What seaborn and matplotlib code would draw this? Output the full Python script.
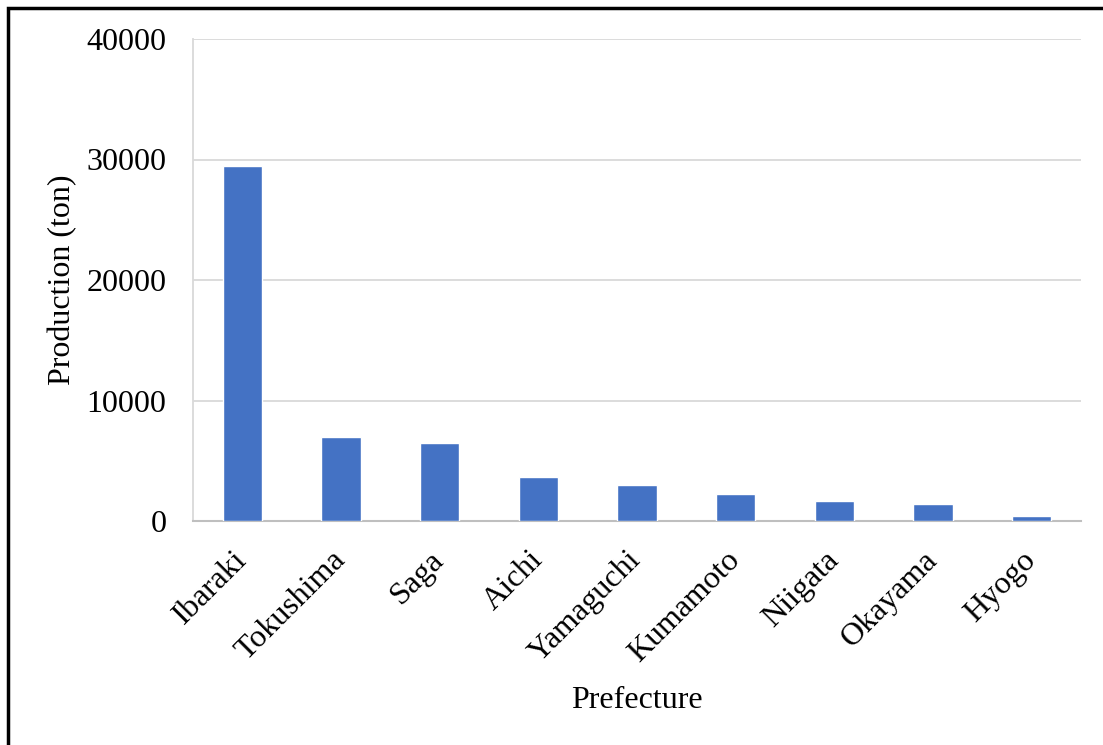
import matplotlib
matplotlib.use("Agg")
import matplotlib.pyplot as plt
from matplotlib.patches import Rectangle
import seaborn as sns
import pandas as pd

prefectures = ["Ibaraki", "Tokushima", "Saga", "Aichi", "Yamaguchi",
               "Kumamoto", "Niigata", "Okayama", "Hyogo"]
production = [29500, 7000, 6450, 3680, 2990, 2240, 1630, 1410, 415]
y_ticks = [0, 10000, 20000, 30000, 40000]

df = pd.DataFrame({"Prefecture": prefectures, "Production": production})

sns.set_theme(style="white")
plt.rcParams['font.family'] = ['Liberation Serif', 'DejaVu Serif']
plt.rcParams['text.color'] = 'black'
plt.rcParams['axes.labelcolor'] = 'black'
plt.rcParams['xtick.color'] = 'black'
plt.rcParams['ytick.color'] = 'black'

FS = 23

fig = plt.figure(figsize=(11.03, 7.45), dpi=100)
ax = fig.add_axes([193/1103, 1-521/745, (1081-193)/1103, (521-39)/745])

sns.barplot(data=df, x="Prefecture", y="Production", color="#4472C4",
            width=0.4, saturation=1, ax=ax, zorder=3)

ax.set_ylim(0, 40000)
ax.set_xlim(-0.5, len(prefectures) - 0.5)
ax.set_yticks(y_ticks)
ax.set_yticklabels([str(v) for v in y_ticks], fontsize=FS)
ax.yaxis.grid(True, color="#d9d9d9", linewidth=1.3, zorder=0)
ax.set_axisbelow(True)
ax.tick_params(axis='y', length=0, pad=19)
ax.tick_params(axis='x', length=0, pad=25)
ax.set_xticks(range(len(prefectures)))
ax.set_xticklabels(prefectures, rotation=45, ha='right', va='center',
                   rotation_mode='anchor', fontsize=FS)

for s in ["top", "right"]:
    ax.spines[s].set_visible(False)
ax.spines["bottom"].set_color("#bfbfbf")
ax.spines["bottom"].set_linewidth(1.5)
ax.spines["left"].set_color("#d9d9d9")
ax.spines["left"].set_linewidth(1.3)

ax.set_xlabel("Prefecture", fontsize=FS)
ax.set_ylabel("Production (ton)", fontsize=FS)
ax.xaxis.set_label_coords((637-193)/(1081-193), -(686-521)/(521-39))
ax.yaxis.set_label_coords(-(193-77)/(1081-193), (521-280)/(521-39))

frame = Rectangle((8/1103, -0.1), 2.0, 1.1 - 8/745, transform=fig.transFigure,
                  fill=False, edgecolor="black", linewidth=2.5, clip_on=False)
fig.patches.append(frame)

fig.savefig("out.png", dpi=100)
